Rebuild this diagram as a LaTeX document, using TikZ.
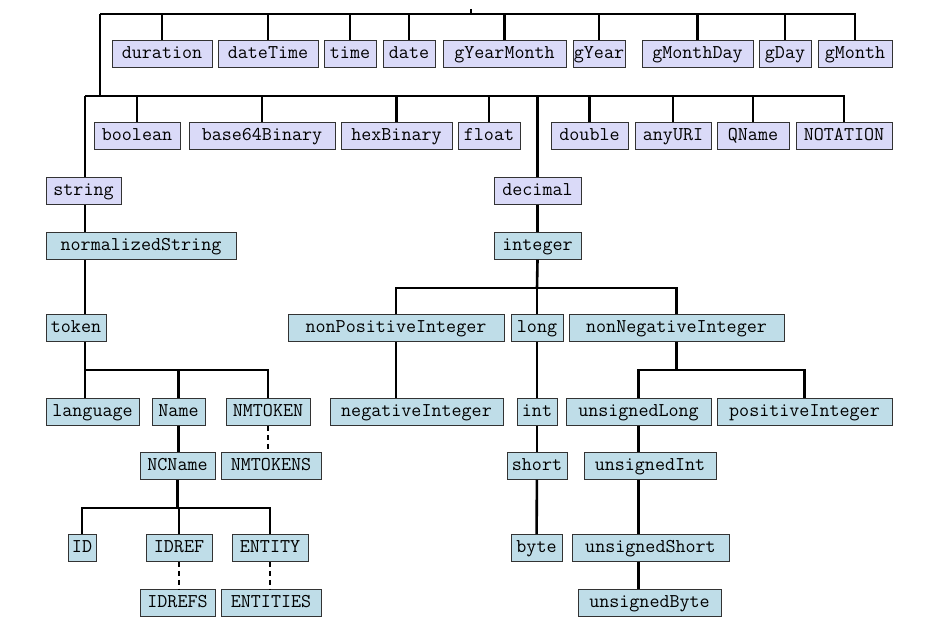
\documentclass[tikz,border=0pt]{standalone}
\usepackage{fontspec}
\definecolor{primfill}{HTML}{DADAF8}
\definecolor{derfill}{HTML}{BFDDE8}
\begin{document}
\begin{tikzpicture}[x=1pt,y=-1pt,
  type/.style={draw=black!80,line width=0.8pt,inner sep=0pt,minimum height=27pt,
    text height=12pt,text depth=3pt,font=\ttfamily\fontsize{19.5}{19.5}\selectfont},
  prim/.style={type,fill=primfill},
  der/.style={type,fill=derfill},
  link/.style={line width=2.6pt,draw=black},
  list/.style={link,dash pattern=on 5pt off 4pt}
]
  \useasboundingbox (0,0) rectangle (945,617);
  % primitive types, first row
  \foreach \n/\l/\r in {duration/112/212,dateTime/218/318,time/324/376,date/383/435,
    gYearMonth/443/566,gYear/573/625,gMonthDay/642/753,gDay/759/811,gMonth/818/892}
    \node[prim,minimum width={\r-\l}] (\n) at ({(\l+\r)/2},54) {\n};
  % primitive types, second row
  \foreach \n/\l/\r in {boolean/94/180,base64Binary/189/335,hexBinary/341/452,float/458/520,
    double/551/628,anyURI/635/711,QName/717/789,NOTATION/796/892}
    \node[prim,minimum width={\r-\l}] (\n) at ({(\l+\r)/2},136) {\n};
  \node[prim,minimum width=75] (string) at (83.5,191) {string};
  \node[prim,minimum width=87] (decimal) at (537.5,191) {decimal};
  % derived string types
  \node[der,minimum width=190] (normalizedString) at (141,246) {normalizedString};
  \node[der,minimum width=60] (token) at (76,328) {token};
  \node[der,minimum width=93] (language) at (92.5,412) {language};
  \node[der,minimum width=53] (Name) at (178.5,412) {Name};
  \node[der,minimum width=84] (NMTOKEN) at (268,412) {NMTOKEN};
  \node[der,minimum width=75] (NCName) at (177.5,466) {NCName};
  \node[der,minimum width=100] (NMTOKENS) at (271,466) {NMTOKENS};
  \node[der,minimum width=28] (ID) at (82,548) {ID};
  \node[der,minimum width=66] (IDREF) at (179,548) {IDREF};
  \node[der,minimum width=76] (ENTITY) at (270,548) {ENTITY};
  \node[der,minimum width=75] (IDREFS) at (177.5,603) {IDREFS};
  \node[der,minimum width=100] (ENTITIES) at (271,603) {ENTITIES};
  % derived numeric types
  \node[der,minimum width=87] (integer) at (537.5,246) {integer};
  \node[der,minimum width=216] (nonPositiveInteger) at (396,328) {nonPositiveInteger};
  \node[der,minimum width=52] (long) at (537,328) {long};
  \node[der,minimum width=215] (nonNegativeInteger) at (676.5,328) {nonNegativeInteger};
  \node[der,minimum width=173] (negativeInteger) at (416.5,412) {negativeInteger};
  \node[der,minimum width=40] (int) at (537,412) {int};
  \node[der,minimum width=60] (short) at (537,466) {short};
  \node[der,minimum width=51] (byte) at (536.5,548) {byte};
  \node[der,minimum width=145] (unsignedLong) at (638.5,412) {unsignedLong};
  \node[der,minimum width=175] (positiveInteger) at (804.5,412) {positiveInteger};
  \node[der,minimum width=132] (unsignedInt) at (650,466) {unsignedInt};
  \node[der,minimum width=157] (unsignedShort) at (650.5,548) {unsignedShort};
  \node[der,minimum width=143] (unsignedByte) at (649.5,603) {unsignedByte};
  % bars
  \coordinate (top) at (100,14);
  \coordinate (bar) at (85,96);
  \draw[link] (471,9) -- (471,14);
  \draw[link] (top) -| (gMonth.north);
  \draw[link] (bar) -| (NOTATION.north);
  \draw[link] (top) -- (top |- bar);
  \foreach \n in {duration,dateTime,time,date,gYearMonth,gYear,gMonthDay,gDay}
    \draw[link] (\n.north) -- (\n.north |- top);
  \foreach \n in {boolean,base64Binary,hexBinary,float,double,anyURI,QName}
    \draw[link] (\n.north) -- (\n.north |- bar);
  \draw[link] (bar) -- (bar |- string.north);
  \draw[link] (decimal.north) -- (decimal.north |- bar);
  % string branch
  \draw[link] (string.south -| bar) -- (bar |- normalizedString.north);
  \draw[link] (normalizedString.south -| bar) -- (bar |- token.north);
  \draw[link] (token.south -| bar) -- (85,370) -| (NMTOKEN.north);
  \draw[link] (Name.north) -- (Name.north |- 0,370);
  \draw[link] (language.north -| bar) -- (85,370);
  \draw[link] (Name.south) -- (Name.south |- NCName.north);
  \draw[list] (NMTOKEN.south) -- (NMTOKEN.south |- NMTOKENS.north);
  \draw[link] (NCName.south) -- (NCName.south |- 0,508);
  \draw[link] (ID.north) |- (ENTITY.north |- 0,508) -- (ENTITY.north);
  \draw[link] (IDREF.north) -- (IDREF.north |- 0,508);
  \draw[list] (IDREF.south) -- (IDREF.south |- IDREFS.north);
  \draw[list] (ENTITY.south) -- (ENTITY.south |- ENTITIES.north);
  % numeric branch
  \draw[link] (decimal) -- (integer);
  \draw[link] (integer.south) -- (537,288);
  \draw[link] (nonPositiveInteger.north) |- (nonNegativeInteger.north |- 0,288) -- (nonNegativeInteger.north);
  \draw[link] (long.north) -- (long.north |- 0,288);
  \draw[link] (nonPositiveInteger.south) -- (nonPositiveInteger.south |- negativeInteger.north);
  \draw[link] (long) -- (int);
  \draw[link] (int) -- (short);
  \draw[link] (short) -- (byte);
  \draw[link] (nonNegativeInteger.south) -- (nonNegativeInteger.south |- 0,370);
  \draw[link] (unsignedLong.north) |- (positiveInteger.north |- 0,370) -- (positiveInteger.north);
  \draw[link] (unsignedLong.south) -- (unsignedLong.south |- unsignedInt.north);
  \draw[link] (unsignedInt.south -| unsignedLong) -- (unsignedLong |- unsignedShort.north);
  \draw[link] (unsignedShort.south -| unsignedLong) -- (unsignedLong |- unsignedByte.north);
\end{tikzpicture}
\end{document}
